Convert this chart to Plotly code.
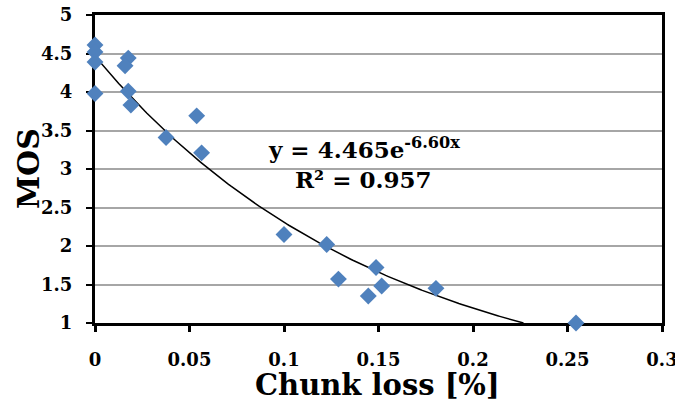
import plotly.graph_objects as go
import numpy as np

# Data
chunk_loss = [0.0, 0.0, 0.0, 0.0, 0.0176, 0.0159, 0.0176, 0.019, 0.0376, 0.0538,
              0.0564, 0.100, 0.1226, 0.1288, 0.1487, 0.1446, 0.1517, 0.1804, 0.2545]
mos = [4.61, 4.52, 4.39, 3.98, 4.44, 4.34, 4.01, 3.83, 3.41, 3.69,
       3.21, 2.15, 2.02, 1.57, 1.72, 1.35, 1.48, 1.45, 1.00]

# Exponential trend line coefficients shown in the chart
fit_a = 4.465
fit_b = -6.60
fit_x_end = np.log(1 / fit_a) / fit_b

x_ticks = [0, 0.05, 0.1, 0.15, 0.2, 0.25, 0.3]
x_tick_text = ["0", "0.05", "0.1", "0.15", "0.2", "0.25", "0.3"]
y_ticks = [1, 1.5, 2, 2.5, 3, 3.5, 4, 4.5, 5]
y_tick_text = ["1", "1.5", "2", "2.5", "3", "3.5", "4", "4.5", "5"]

font_family = "DejaVu Serif"

fit_x = np.linspace(0, fit_x_end, 200)
fit_y = fit_a * np.exp(fit_b * fit_x)

fig = go.Figure()
fig.add_trace(go.Scatter(x=fit_x, y=fit_y, mode="lines",
                         line=dict(color="black", width=1.5), hoverinfo="skip"))
fig.add_trace(go.Scatter(x=chunk_loss, y=mos, mode="markers", cliponaxis=False,
                         marker=dict(symbol="diamond", size=13, color="#4F81BD",
                                     line=dict(width=0))))

fig.add_annotation(x=0.1423, y=3.27, xref="x", yref="y", showarrow=False,
                   text="y = 4.465e<sup>-6.60x</sup>",
                   font=dict(family=font_family, size=23, color="black", weight="bold"))
fig.add_annotation(x=0.1423, y=2.86, xref="x", yref="y", showarrow=False,
                   text="R² = 0.957",
                   font=dict(family=font_family, size=23, color="black", weight="bold"))

# Axis titles
fig.add_annotation(x=0.499, y=-0.200, xref="paper", yref="paper", showarrow=False,
                   text="Chunk loss [%]", yanchor="middle", xanchor="center",
                   font=dict(family=font_family, size=29, color="black", weight="bold"))
fig.add_annotation(x=-0.118, y=0.50, xref="paper", yref="paper", showarrow=False,
                   text="MOS", textangle=-90, yanchor="middle", xanchor="center",
                   font=dict(family=font_family, size=30, color="black", weight="bold"))

fig.update_layout(
    width=675, height=402,
    margin=dict(l=95, r=13, t=15, b=79),
    paper_bgcolor="white", plot_bgcolor="white",
    showlegend=False,
    font=dict(family=font_family, color="black"),
    xaxis=dict(range=[0, 0.3], tickvals=x_ticks, ticktext=x_tick_text,
               automargin=False, layer="below traces", ticklabeloverflow="allow",
               showgrid=False, zeroline=False,
               showline=True, linecolor="black", linewidth=3, mirror=True,
               ticks="outside", ticklen=6, tickwidth=2.5, tickcolor="black",
               ticklabelstandoff=12,
               tickfont=dict(family=font_family, size=18, color="black", weight="bold")),
    yaxis=dict(range=[1, 5], tickvals=y_ticks, ticktext=y_tick_text,
               automargin=False, layer="below traces",
               showgrid=True, gridcolor="#A6A6A6", gridwidth=1.5, zeroline=False,
               showline=True, linecolor="black", linewidth=3, mirror=True,
               ticks="outside", ticklen=6, tickwidth=2, tickcolor="black",
               ticklabelstandoff=10,
               tickfont=dict(family=font_family, size=18, color="black", weight="bold")),
)

fig.write_html("out.html", config={"displayModeBar": False},
               post_script="document.body.style.margin='0';document.body.style.overflow='hidden';")
